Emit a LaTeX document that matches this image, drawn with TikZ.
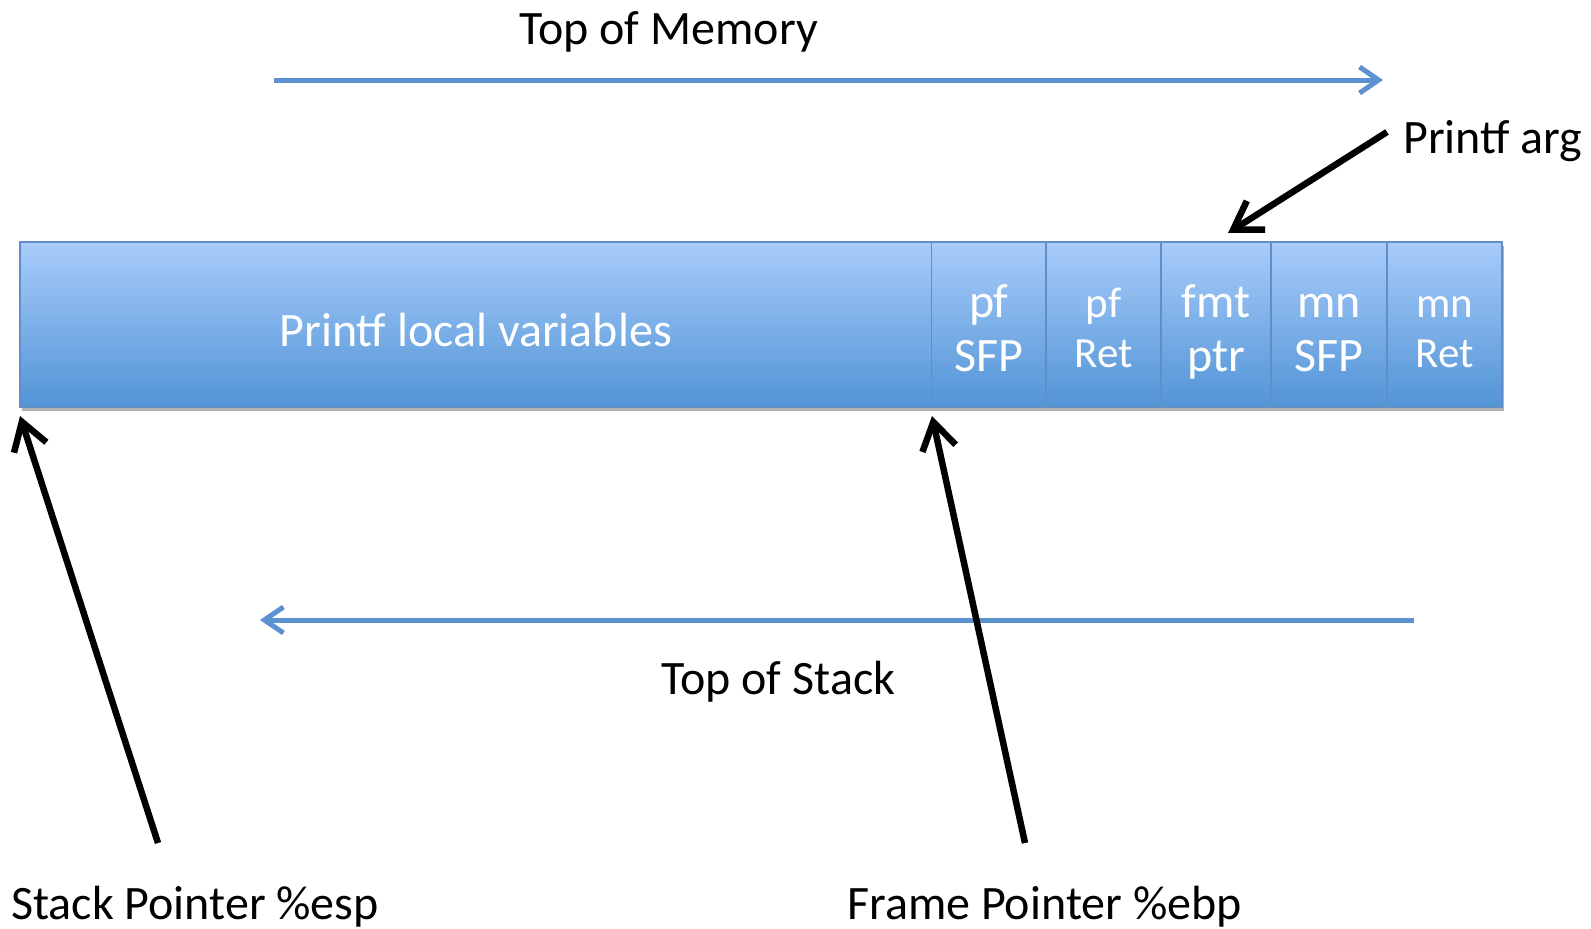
\documentclass[tikz,border=0pt]{standalone}
\usepackage{fontspec}
\setmainfont{Carlito}
\usetikzlibrary{arrows.meta,shadows}
\definecolor{cellTop}{RGB}{168,204,251}
\definecolor{cellBot}{RGB}{82,148,214}
\definecolor{cellEdge}{RGB}{98,142,200}
\definecolor{flow}{RGB}{92,146,208}
\newcommand{\cellpair}[2]{\vphantom{f}#1\\\raisebox{0pt}[\height][0pt]{#2}}
\begin{document}
\begin{tikzpicture}[x=1pt,y=-1pt,
  cell/.style={draw=cellEdge, line width=1.2pt, top color=cellTop, bottom color=cellBot,
    minimum height=165pt, inner sep=0pt, outer sep=0pt, anchor=north west,
    drop shadow={shadow xshift=2pt, shadow yshift=-3.5pt, opacity=0.3, fill=black}},
  ctext/.style={text=white, align=center, inner sep=0pt},
  big/.style={font=\fontsize{48}{54}\selectfont},
  small/.style={font=\fontsize{43}{50}\selectfont},
  label/.style={font=\fontsize{48}{54}\selectfont, inner sep=0pt, anchor=base west},
  flowarrow/.style={draw=flow, line width=5pt, -{Straight Barb[length=19pt,width=26pt]}},
  pointer/.style={draw=black, line width=6.5pt, -{Straight Barb[length=27pt,width=34pt]}}]
\useasboundingbox (0,0) rectangle (1591,929);

% memory cells
\node[cell, minimum width=911.5pt] (local) at (20,242) {};
\node[cell, minimum width=114.5pt] (pfsfp) at (931.5,242) {};
\node[cell, minimum width=115pt] (pfret) at (1046,242) {};
\node[cell, minimum width=110pt] (fmt) at (1161,242) {};
\node[cell, minimum width=116pt] (mnsfp) at (1271,242) {};
\node[cell, minimum width=115pt] (mnret) at (1387,242) {};

\node[ctext, big] (localT) at ([yshift=-6pt]local.center) {Printf local variables};
\node[ctext, big] (pfsfpT) at ([yshift=-4pt]pfsfp.center) {\cellpair{pf}{SFP}};
\node[ctext, small] (pfretT) at ([yshift=-3pt]pfret.center) {\cellpair{pf}{Ret}};
\node[ctext, big] (fmtT) at ([yshift=-4pt]fmt.center) {\cellpair{fmt}{ptr}};
\node[ctext, big] (mnsfpT) at ([yshift=-4pt]mnsfp.center) {\cellpair{mn}{SFP}};
\node[ctext, small] (mnretT) at ([yshift=-3pt]mnret.center) {\cellpair{mn}{Ret}};

% labels
\node[label] (topmem) at (519,44) {Top of Memory};
\node[label] (parg) at (1403,153) {Printf arg};
\node[label] (topstack) at (661,694) {Top of Stack};
\node[label] (esp) at (11,919) {Stack Pointer \%esp};
\node[label] (ebp) at (847,919) {Frame Pointer \%ebp};

% flow arrows
\coordinate (memA) at (274,80);
\coordinate (memB) at (1383,80);
\coordinate (stkA) at (1414,620);
\coordinate (stkB) at (260,620);
\draw[flowarrow] (memA) -- (memB);
\draw[flowarrow] (stkA) -- (stkB);

% pointer arrows
\coordinate (argA) at (1387,132);
\coordinate (argB) at (1228,233);
\coordinate (espA) at (158,843);
\coordinate (espB) at (20,416);
\coordinate (ebpA) at (1025,843);
\coordinate (ebpB) at (932,416);
\draw[pointer] (argA) -- (argB);
\draw[pointer] (espA) -- (espB);
\draw[pointer] (ebpA) -- (ebpB);
\end{tikzpicture}
\end{document}
